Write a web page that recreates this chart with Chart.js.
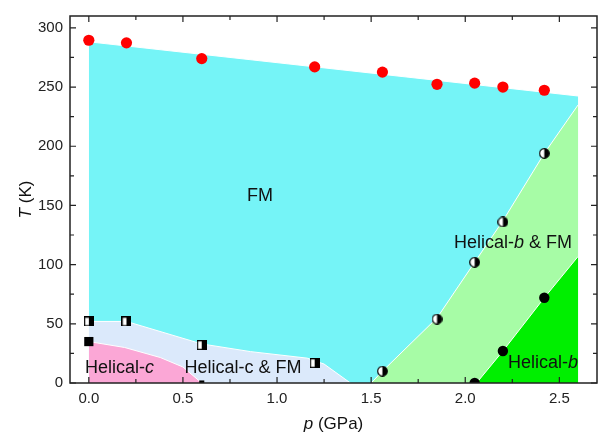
<!DOCTYPE html>
<html>
<head>
<meta charset="utf-8">
<script src="https://cdn.jsdelivr.net/npm/chart.js@4.4.1/dist/chart.umd.min.js"></script>
<style>
  html, body { margin: 0; padding: 0; background: #fff; }
  #wrap { width: 606px; height: 439px; }
</style>
</head>
<body>
<div id="wrap"><canvas id="phase" width="606" height="439"></canvas></div>
<script>
// measured points: p in GPa, T in K
const tcP = [0, 0.2, 0.6, 1.2, 1.56, 1.85, 2.05, 2.2, 2.42];
const tcT = [289.5, 287.3, 274, 267, 262.6, 252.3, 253.3, 250, 247.3];
const halfSqP = [0, 0.2, 0.6, 1.2];
const halfSqT = [52, 52, 32, 16.8];
const blackSqP = [0, 0.6];
const blackSqT = [35, 0];
const halfCircP = [1.56, 1.85, 2.05, 2.2, 2.42];
const halfCircT = [10, 54, 102, 136, 194];
const blackCircP = [2.05, 2.2, 2.42];
const blackCircT = [0, 27, 72];

// phase boundaries
const fmTopP = [0, 2.6];
const fmTopT = [288.2, 242.4];
const hcFmP = [0, 0.2, 0.6, 0.86, 1.16, 1.25, 1.39];
const hcFmT = [52, 52, 33, 26.5, 21, 16, 0];
const hcP = [0, 0.19, 0.38, 0.5, 0.6];
const hcT = [35, 30, 21.5, 13.5, 0];
const hbFmP = [1.5, 1.56, 1.85, 2.05, 2.2, 2.42, 2.6];
const hbFmT = [0, 10, 55, 102, 137, 194, 235];
const hbP = [2.06, 2.2, 2.42, 2.6];
const hbT = [0, 27, 72, 107];

const xTicks = [0, 0.5, 1.0, 1.5, 2.0, 2.5];
const xMinor = [0.25, 0.75, 1.25, 1.75, 2.25];
const yTicks = [0, 50, 100, 150, 200, 250, 300];
const yMinor = [25, 75, 125, 175, 225, 275];

const pts = (xs, ys) => xs.map((x, i) => ({ x: x, y: ys[i] }));

// marker images: white left half, black right half
function halfSquare(s) {
  const c = document.createElement("canvas");
  c.width = s; c.height = s;
  const g = c.getContext("2d");
  g.fillStyle = "#fff"; g.fillRect(0, 0, s, s);
  g.fillStyle = "#000"; g.fillRect(s / 2, 0, s / 2, s);
  g.strokeStyle = "#000"; g.lineWidth = 1.3;
  g.strokeRect(0.65, 0.65, s - 1.3, s - 1.3);
  return c;
}
function halfCircle(s) {
  const c = document.createElement("canvas");
  c.width = s; c.height = s;
  const g = c.getContext("2d");
  const r = s / 2 - 0.7;
  g.beginPath(); g.arc(s / 2, s / 2, r, 0, Math.PI * 2);
  g.fillStyle = "#fff"; g.fill();
  g.beginPath(); g.arc(s / 2, s / 2, r, -Math.PI / 2, Math.PI / 2);
  g.closePath(); g.fillStyle = "#000"; g.fill();
  g.beginPath(); g.arc(s / 2, s / 2, r, 0, Math.PI * 2);
  g.strokeStyle = "#000"; g.lineWidth = 1.2; g.stroke();
  return c;
}

const FONT = 'Arial, "Liberation Sans", sans-serif';

// region labels (parts: [text, italic])
const labels = [
  { parts: [["FM", false]], p: 0.91, T: 158, align: "center" },
  { parts: [["Helical-", false], ["c", true]], p: -0.02, T: 13, align: "left" },
  { parts: [["Helical-c & FM", false]], p: 0.508, T: 13, align: "left" },
  { parts: [["Helical-", false], ["b", true], [" & FM", false]], p: 2.254, T: 118, align: "center" },
  { parts: [["Helical-", false], ["b", true]], p: 2.413, T: 17, align: "center" },
];

function drawParts(ctx, parts, x, y, size, align) {
  let w = 0;
  parts.forEach(([t, it]) => {
    ctx.font = (it ? "italic " : "") + size + "px " + FONT;
    w += ctx.measureText(t).width;
  });
  let cx = align === "center" ? x - w / 2 : x;
  ctx.textAlign = "left";
  ctx.textBaseline = "middle";
  parts.forEach(([t, it]) => {
    ctx.font = (it ? "italic " : "") + size + "px " + FONT;
    ctx.fillText(t, cx, y);
    cx += ctx.measureText(t).width;
  });
}

const framePlugin = {
  id: "frame",
  afterDatasetsDraw(chart) {
    const ctx = chart.ctx;
    const xs = chart.scales.x, ys = chart.scales.y;
    ctx.save();
    ctx.fillStyle = "#111";
    labels.forEach((l) => {
      drawParts(ctx, l.parts, xs.getPixelForValue(l.p), ys.getPixelForValue(l.T), 18, l.align);
    });
    ctx.restore();
  },
  afterDraw(chart) {
    const ctx = chart.ctx;
    const a = chart.chartArea;
    const xs = chart.scales.x, ys = chart.scales.y;
    ctx.save();
    ctx.strokeStyle = "#222";
    ctx.lineWidth = 1.5;
    ctx.strokeRect(a.left, a.top, a.right - a.left, a.bottom - a.top);
    ctx.lineWidth = 1.2;
    ctx.beginPath();
    const tickX = (v, len) => {
      const px = xs.getPixelForValue(v);
      ctx.moveTo(px, a.bottom); ctx.lineTo(px, a.bottom - len);
      ctx.moveTo(px, a.top); ctx.lineTo(px, a.top + len);
    };
    const tickY = (v, len) => {
      const py = ys.getPixelForValue(v);
      ctx.moveTo(a.left, py); ctx.lineTo(a.left + len, py);
      ctx.moveTo(a.right, py); ctx.lineTo(a.right - len, py);
    };
    xTicks.forEach((v) => tickX(v, 6));
    xMinor.forEach((v) => tickX(v, 4));
    yTicks.forEach((v) => tickY(v, 6));
    yMinor.forEach((v) => tickY(v, 4));
    ctx.stroke();

    // axis titles
    ctx.fillStyle = "#111";
    drawParts(ctx, [["p", true], [" (GPa)", false]], (a.left + a.right) / 2, 424, 17, "center");
    ctx.translate(26, (a.top + a.bottom) / 2);
    ctx.rotate(-Math.PI / 2);
    drawParts(ctx, [["T", true], [" (K)", false]], 0, 0, 17, "center");
    ctx.restore();
  },
};

const area = (data, color, order) => ({
  data: data,
  showLine: true,
  fill: "origin",
  backgroundColor: color,
  borderColor: "#fff",
  borderWidth: 1,
  pointRadius: 0,
  tension: 0,
  order: order,
});

new Chart(document.getElementById("phase"), {
  type: "scatter",
  data: {
    datasets: [
      area(pts(fmTopP, fmTopT), "#75f4f7", 10),
      area(pts(hbFmP, hbFmT), "#a7fca6", 9),
      area(pts(hbP, hbT), "#00ef00", 8),
      area(pts(hcFmP, hcFmT), "#dbe9fb", 7),
      area(pts(hcP, hcT), "#fba7d6", 6),
      {
        data: pts(tcP, tcT), pointStyle: "circle", pointRadius: 5.6,
        backgroundColor: "#ff0000", borderColor: "#ff0000", borderWidth: 0, order: 1,
      },
      {
        data: pts(halfSqP, halfSqT), pointStyle: halfSquare(10), order: 1,
      },
      {
        data: pts(blackSqP, blackSqT), pointStyle: "rect", pointRadius: [6.5, 3.6],
        backgroundColor: "#000", borderColor: "#000", borderWidth: 0, order: 1,
      },
      {
        data: pts(halfCircP, halfCircT), pointStyle: halfCircle(11), order: 1,
      },
      {
        data: pts(blackCircP, blackCircT), pointStyle: "circle", pointRadius: 5.2,
        backgroundColor: "#000", borderColor: "#000", borderWidth: 0, order: 1,
      },
    ],
  },
  options: {
    responsive: false,
    animation: false,
    events: [],
    devicePixelRatio: 1,
    layout: { padding: { left: 0, right: 9, top: 5, bottom: 0 } },
    plugins: { legend: { display: false }, tooltip: { enabled: false } },
    scales: {
      x: {
        type: "linear", min: -0.1, max: 2.7,
        afterBuildTicks: (s) => { s.ticks = xTicks.map((v) => ({ value: v })); },
        afterFit: (s) => { s.height = 56; },
        grid: { display: false, drawTicks: false },
        border: { display: false },
        ticks: { padding: 7, color: "#222", font: { family: FONT, size: 15 },
          callback: (v) => Number(v).toFixed(1) },
      },
      y: {
        type: "linear", min: 0, max: 310,
        afterBuildTicks: (s) => { s.ticks = yTicks.map((v) => ({ value: v })); },
        afterFit: (s) => { s.width = 70; },
        grid: { display: false, drawTicks: false },
        border: { display: false },
        ticks: { padding: 7, color: "#222", font: { family: FONT, size: 15 },
          callback: (v) => String(v) },
      },
    },
  },
  plugins: [framePlugin],
});
</script>
</body>
</html>
